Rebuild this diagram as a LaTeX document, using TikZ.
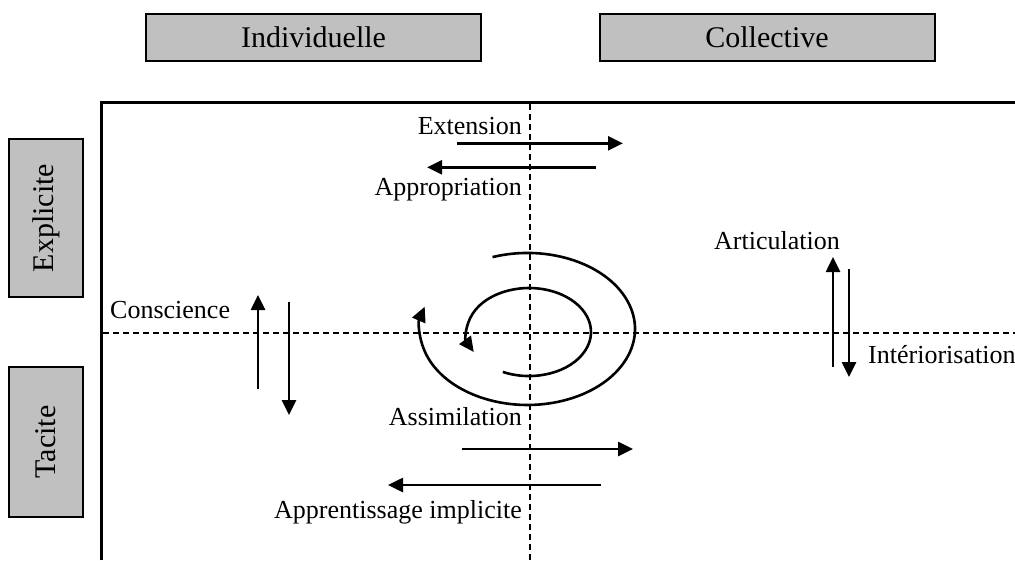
\documentclass[tikz,border=0pt]{standalone}
\usepackage{fontspec}
\setmainfont{Liberation Serif}
\usetikzlibrary{arrows.meta}
\definecolor{boxgray}{HTML}{C0C0C0}
\begin{document}
\begin{tikzpicture}[x=1pt,y=1pt,
  hdr/.style={draw=black, line width=2pt, fill=boxgray, minimum width=335pt, minimum height=47pt, inner sep=0pt, font=\fontsize{30}{34}\selectfont},
  side/.style={draw=black, line width=2pt, fill=boxgray, minimum height=74pt, inner sep=0pt, rotate=90, font=\fontsize{30}{34}\selectfont},
  lbl/.style={inner sep=0pt, font=\fontsize{26}{30}\selectfont},
  arr/.style={line width=2.6pt, -{Triangle[length=15pt,width=14pt]}},
  frame/.style={line width=3pt},
  axis/.style={line width=2.4pt, dash pattern=on 6pt off 4pt},
  vaxis/.style={line width=2pt, dash pattern=on 6pt off 4pt}
]
\useasboundingbox (0,0) rectangle (1015,-560);

% header boxes
\node[hdr] (ind) at (313.5,-37) {Individuelle};
\node[hdr] (col) at (767,-37) {Collective};

% side boxes
\node[side, minimum width=158pt] (expl) at (46,-218) {Explicite};
\node[side, minimum width=150pt] (tac) at (46,-442) {Tacite};

% frame
\coordinate (fbl) at (101.5,-560);
\coordinate (ftl) at (101.5,-102);
\coordinate (ftr) at (1015,-102);
\draw[frame] (fbl) -- (ftl) -- (ftr);

% axes
\coordinate (hl) at (103,-333);
\coordinate (hr) at (1015,-333);
\coordinate (vt) at (530,-103.5);
\coordinate (vb) at (530,-560);
\draw[axis] (hl) -- (hr);
\draw[vaxis] (vt) -- (vb);

% top arrows
\node[lbl, anchor=base east] (lext) at (522,-134) {Extension};
\node[lbl, anchor=base east] (lapp) at (522,-195) {Appropriation};
\coordinate (e1) at (457,-143.3);
\coordinate (e2) at (623,-143.3);
\coordinate (a1) at (596,-167.3);
\coordinate (a2) at (427,-167.3);
\draw[arr] (e1) -- (e2);
\draw[arr] (a1) -- (a2);

% left arrows
\node[lbl, anchor=base west] (lcons) at (110,-318) {Conscience};
\coordinate (c1) at (258,-389);
\coordinate (c2) at (258,-295);
\coordinate (c3) at (289,-302);
\coordinate (c4) at (289,-415);
\draw[arr] (c1) -- (c2);
\draw[arr] (c3) -- (c4);

% right arrows
\node[lbl, anchor=base east] (lart) at (840,-249) {Articulation};
\node[lbl, anchor=base west] (lint) at (868,-363) {Intériorisation};
\coordinate (r1) at (833,-367);
\coordinate (r2) at (833,-257);
\coordinate (r3) at (849,-269);
\coordinate (r4) at (849,-377);
\draw[arr] (r1) -- (r2);
\draw[arr] (r3) -- (r4);

% bottom arrows
\node[lbl, anchor=base east] (lassim) at (522,-425) {Assimilation};
\node[lbl, anchor=base east] (lappimp) at (522,-518) {Apprentissage implicite};
\coordinate (b1) at (462,-449);
\coordinate (b2) at (633,-449);
\coordinate (b3) at (601,-485);
\coordinate (b4) at (388,-485);
\draw[arr] (b1) -- (b2);
\draw[arr] (b3) -- (b4);

% spiral
\coordinate (so) at (492.5,-257.1);
\coordinate (si) at (502.8,-371.9);
\draw[arr] (so) arc[start angle=109, end angle=-197, x radius=107.5, y radius=76];
\draw[arr] (si) arc[start angle=-115, end angle=207, x radius=62, y radius=44];
\end{tikzpicture}
\end{document}
